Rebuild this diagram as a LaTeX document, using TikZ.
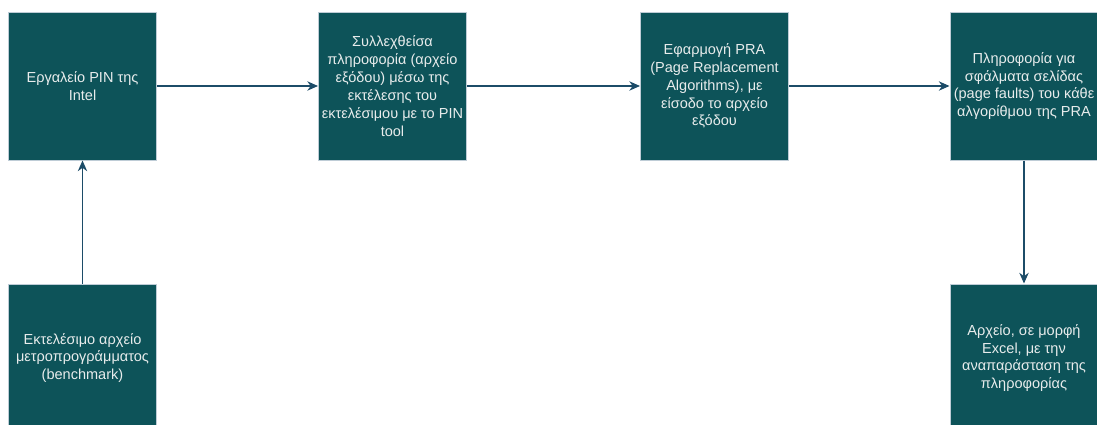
\documentclass[tikz,border=0pt]{standalone}
\usepackage{fontspec}
\setmainfont{Liberation Sans}
\usetikzlibrary{arrows.meta}
\definecolor{boxfill}{RGB}{13,83,89}
\definecolor{boxline}{RGB}{190,204,214}
\definecolor{arrowc}{RGB}{28,76,104}
\definecolor{txt}{RGB}{232,236,236}
\tikzset{
  procbox/.style={draw=boxline, line width=0.75pt, fill=boxfill, text=txt,
    minimum width=148*0.75pt, minimum height=148*0.75pt, inner sep=0pt,
    align=center, font=\fontsize{10.9pt}{13.4pt}\selectfont},
  flow/.style={draw=arrowc, line width=1pt, -{Stealth[length=8pt,width=7pt,inset=2.5pt]}}
}
\begin{document}
\begin{tikzpicture}[x=0.75pt,y=-0.75pt]
\useasboundingbox (0,0) rectangle (1097,425);
\clip (0,0) rectangle (1097,425);
\node[procbox] (a) at (82.5,86) {Εργαλείο PIN της\\Intel};
\node[procbox] (b) at (392.5,86) {Συλλεχθείσα\\πληροφορία (αρχείο\\εξόδου) μέσω της\\εκτέλεσης του\\εκτελέσιμου με το PIN\\tool};
\node[procbox] (c) at (714.5,86) {Εφαρμογή PRA\\(Page Replacement\\Algorithms), με\\είσοδο το αρχείο\\εξόδου};
\node[procbox] (d) at (1024,86) {Πληροφορία για\\σφάλματα σελίδας\\(page faults) του κάθε\\αλγορίθμου της PRA};
\node[procbox] (e) at (82.5,358) {Εκτελέσιμο αρχείο\\μετροπρογράμματος\\(benchmark)};
\node[procbox] (f) at (1024,358) {Αρχείο, σε μορφή\\Excel, με την\\αναπαράσταση της\\πληροφορίας};
\draw[flow] (e) -- (a);
\draw[flow] (a) -- (b);
\draw[flow] (b) -- (c);
\draw[flow] (c) -- (d);
\draw[flow] (d) -- (f);
\end{tikzpicture}
\end{document}
